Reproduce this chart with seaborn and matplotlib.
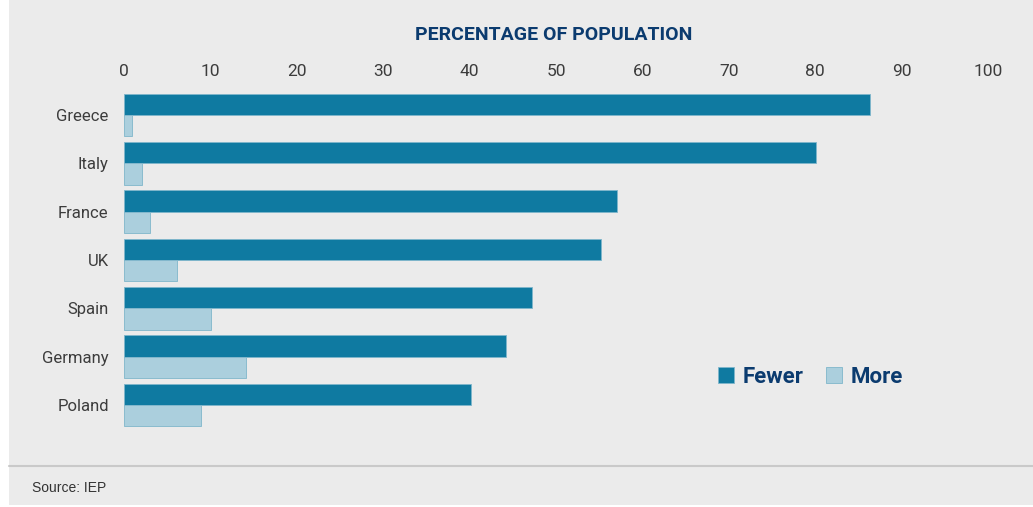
import pandas as pd
import seaborn as sns
import matplotlib.pyplot as plt
from matplotlib.patches import Rectangle

countries = ["Greece", "Italy", "France", "UK", "Spain", "Germany", "Poland"]
fewer = [86.3, 80.1, 57.1, 55.2, 47.2, 44.2, 40.2]
more = [0.9, 2.1, 3.0, 6.1, 10.1, 14.1, 8.9]
groups = ["Fewer", "More"]
x_ticks = [0, 10, 20, 30, 40, 50, 60, 70, 80, 90, 100]

df = pd.DataFrame({
    "country": countries * 2,
    "value": fewer + more,
    "group": ["Fewer"] * len(countries) + ["More"] * len(countries),
})

navy = "#0B3B6F"
bg = "#EBEBEB"
palette = {"Fewer": "#0F7AA1", "More": "#ABCFDD"}

sns.set_style("white")
plt.rcParams["font.family"] = ["Roboto", "DejaVu Sans"]

fig = plt.figure(figsize=(10.33, 5.07), dpi=100, facecolor="white")
# grey panel behind everything
fig.patches.append(Rectangle((9 / 1033, 0.004), 1, 1, transform=fig.transFigure,
                             facecolor=bg, edgecolor="none", zorder=-1))
fig.add_artist(plt.Line2D([9 / 1033, 1], [1 - 466 / 507] * 2, transform=fig.transFigure,
                          color="#C9C9C9", lw=1.5))

ax = fig.add_axes([124 / 1033, 1 - 429 / 507, 864 / 1033, 338 / 507])
ax.set_facecolor(bg)

sns.barplot(data=df, y="country", x="value", hue="group", hue_order=groups,
            palette=palette, orient="h", width=0.88, saturation=1,
            edgecolor="#7FB6CB", linewidth=0.6, ax=ax)

ax.set_xlim(0, 100)
ax.set_xticks(x_ticks)
ax.xaxis.tick_top()
ax.tick_params(axis="x", length=0, pad=8.5, labelsize=12.5, labelcolor="#3C3C3C")
ax.tick_params(axis="y", length=0, pad=11, labelsize=12, labelcolor="#3C3C3C")
ax.set_xlabel("")
ax.set_ylabel("")
sns.despine(ax=ax, left=True, bottom=True, top=True, right=True)

handles, labels = ax.get_legend_handles_labels()
ax.legend(handles, labels, loc="center left", bbox_to_anchor=(707 / 1033, 1 - 377 / 507),
          bbox_transform=fig.transFigure, ncol=2, frameon=False, borderpad=0,
          handlelength=0.72, handleheight=0.72, handletextpad=0.4, columnspacing=1.0,
          prop={"size": 16, "weight": "bold"}, labelcolor=navy)

fig.text(554 / 1033, 1 - 35 / 507, "PERCENTAGE OF POPULATION", ha="center", va="center",
         fontsize=14, fontweight="bold", color=navy)
fig.text(32 / 1033, 1 - 488 / 507, "Source: IEP", ha="left", va="center",
         fontsize=10, color="#333333", family=["Liberation Sans", "DejaVu Sans"])

fig.savefig("out.png", dpi=100, facecolor="white")
